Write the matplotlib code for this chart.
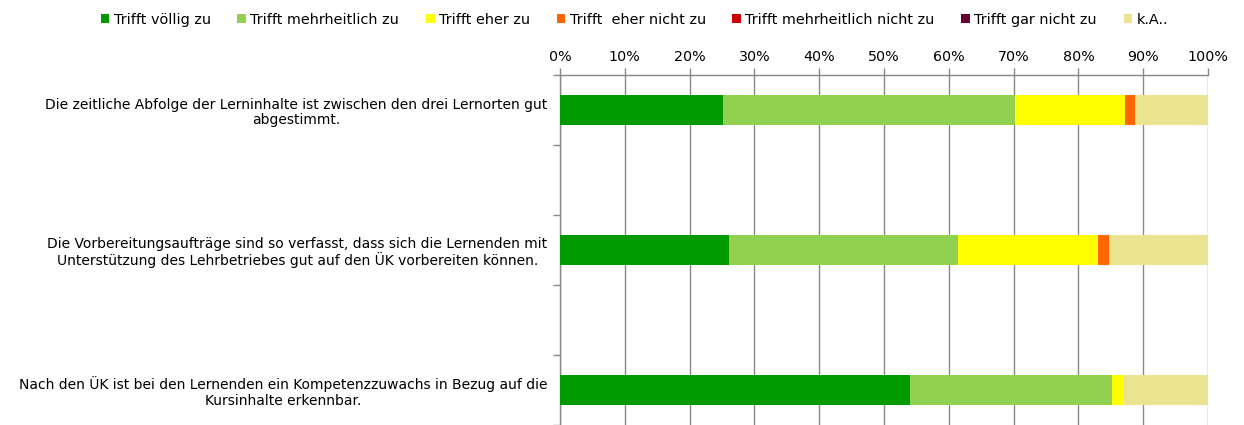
import matplotlib.pyplot as plt
import numpy as np

questions = [
    "Die zeitliche Abfolge der Lerninhalte ist zwischen den drei Lernorten gut\nabgestimmt.",
    "Die Vorbereitungsaufträge sind so verfasst, dass sich die Lernenden mit\nUnterstützung des Lehrbetriebes gut auf den ÜK vorbereiten können.",
    "Nach den ÜK ist bei den Lernenden ein Kompetenzzuwachs in Bezug auf die\nKursinhalte erkennbar.",
]
answers = [
    "Trifft völlig zu",
    "Trifft mehrheitlich zu",
    "Trifft eher zu",
    "Trifft  eher nicht zu",
    "Trifft mehrheitlich nicht zu",
    "Trifft gar nicht zu",
    "k.A..",
]
colors = ["#009900", "#92D050", "#FFFF00", "#FF6600", "#CC0000", "#660033", "#EAE491"]

# percent per answer, one list per answer category (question order as above)
voellig = [25.2, 26.1, 54.0]
mehrheitlich = [45.0, 35.3, 31.2]
eher = [17.0, 21.6, 1.9]
eher_nicht = [1.5, 1.7, 0.0]
mehrheitlich_nicht = [0.0, 0.0, 0.0]
gar_nicht = [0.0, 0.0, 0.0]
keine_angabe = [11.3, 15.3, 12.9]
series = [voellig, mehrheitlich, eher, eher_nicht, mehrheitlich_nicht,
          gar_nicht, keine_angabe]

plt.rcParams['font.family'] = ['DejaVu Sans']

fig = plt.figure(figsize=(12.44, 4.25), dpi=100)
ax = fig.add_axes([560 / 1244, 0, 648 / 1244, 350 / 425])

rows = np.arange(len(questions)) * 2
left = np.zeros(len(questions))
for vals, col, lab in zip(series, colors, answers):
    ax.barh(rows, vals, left=left, height=0.43, color=col, label=lab, zorder=3)
    left += np.array(vals)

ax.set_xlim(0, 100)
ax.set_ylim(4.5, -0.5)
ax.xaxis.tick_top()
ax.set_xticks(np.arange(0, 101, 10))
ax.set_xticklabels([f"{v}%" for v in range(0, 101, 10)], fontsize=10.3)
ax.tick_params(axis='x', length=5, color='#888888', width=1, pad=3)
ax.grid(axis='x', color='#888888', linewidth=1, zorder=0)

ax.set_yticks(rows)
ax.set_yticklabels(questions, fontsize=10, multialignment='center',
                   linespacing=1.15)
ax.set_yticks(np.arange(-0.5, 4.6, 1), minor=True)
ax.tick_params(axis='y', which='major', length=0, pad=9)
ax.tick_params(axis='y', which='minor', length=5, color='#888888', width=1)

for s in ('right', 'bottom'):
    ax.spines[s].set_visible(False)
for s in ('top', 'left'):
    ax.spines[s].set_color('#888888')
    ax.spines[s].set_linewidth(1)

fig.legend(loc='upper center', bbox_to_anchor=(0.51, 1.0), ncol=7,
           frameon=False, fontsize=10.4, handlelength=0.6, handleheight=0.6,
           handletextpad=0.3, columnspacing=1.85)

fig.savefig("out.png", dpi=100)
